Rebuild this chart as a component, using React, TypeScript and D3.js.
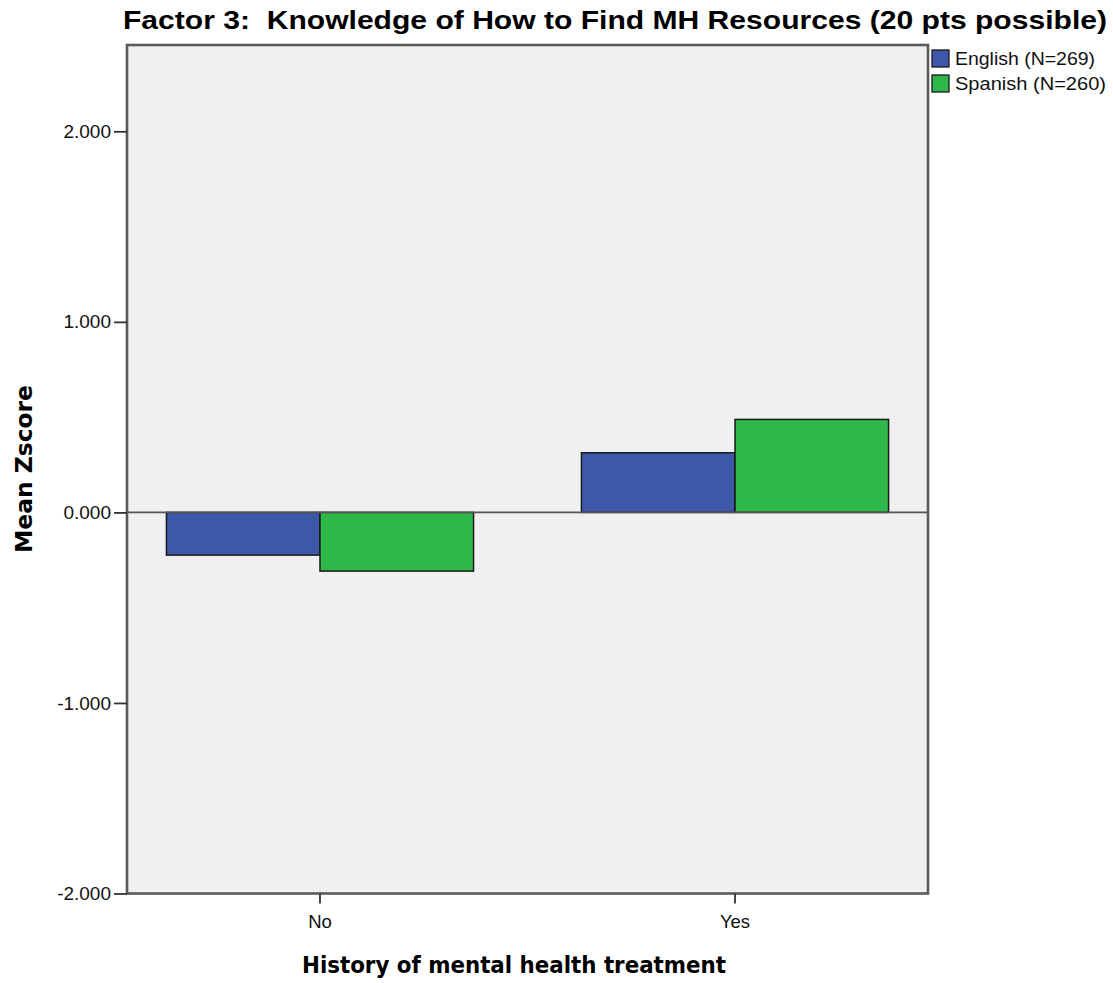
import { useEffect, useRef } from "react";
import * as d3 from "d3";

const categories = ["No", "Yes"];
const seriesNames = ["English (N=269)", "Spanish (N=260)"];
const englishValues = [-0.224, 0.313];
const spanishValues = [-0.308, 0.488];
const yTicks = [-2, -1, 0, 1, 2];
const colors = ["#3d58a9", "#2fb84a"];

const W = 1113;
const H = 983;

export default function App() {
  const svgRef = useRef<SVGSVGElement>(null);

  useEffect(() => {
    if (!svgRef.current) return;
    const svg = d3.select(svgRef.current);
    svg.selectAll("*").remove();

    const left = 127;
    const right = 928;
    const top = 45;
    const bottom = 893.5;

    const y = d3.scaleLinear().domain([-2, 2.453]).range([bottom, top]);
    const x0 = d3
      .scaleBand()
      .domain(categories)
      .range([left, right])
      .paddingInner(0.26)
      .paddingOuter(0.095);
    const x1 = d3
      .scaleBand()
      .domain(seriesNames)
      .range([0, x0.bandwidth()]);

    // plot background
    svg
      .append("rect")
      .attr("x", left)
      .attr("y", top)
      .attr("width", right - left)
      .attr("height", bottom - top)
      .attr("fill", "#f0f0f0");

    const series = [englishValues, spanishValues];
    const data = categories.flatMap((c, i) =>
      seriesNames.map((s, j) => ({ c, s, v: series[j][i], j }))
    );

    svg
      .append("g")
      .selectAll("rect")
      .data(data)
      .enter()
      .append("rect")
      .attr("x", (d) => (x0(d.c) ?? 0) + (x1(d.s) ?? 0))
      .attr("width", x1.bandwidth())
      .attr("y", (d) => y(Math.max(0, d.v)))
      .attr("height", (d) => Math.abs(y(d.v) - y(0)))
      .attr("fill", (d) => colors[d.j])
      .attr("stroke", "#1a1a1a")
      .attr("stroke-width", 1.5);

    // zero reference line
    svg
      .append("line")
      .attr("x1", left)
      .attr("x2", right)
      .attr("y1", y(0))
      .attr("y2", y(0))
      .attr("stroke", "#555")
      .attr("stroke-width", 1.8);

    // frame
    svg
      .append("rect")
      .attr("x", left)
      .attr("y", top)
      .attr("width", right - left)
      .attr("height", bottom - top)
      .attr("fill", "none")
      .attr("stroke", "#5a5a5a")
      .attr("stroke-width", 2.6);

    // y axis (SPSS style: plain hyphen for negatives)
    const fmt = d3.format(".3f");
    const yAxis = svg
      .append("g")
      .attr("transform", `translate(${left},0)`)
      .call(
        d3
          .axisLeft(y)
          .tickValues(yTicks)
          .tickSize(13)
          .tickPadding(3)
          .tickFormat((d) => fmt(d as number).replace("\u2212", "-"))
      );
    yAxis.select(".domain").remove();
    yAxis.selectAll(".tick line").attr("stroke", "#333").attr("stroke-width", 1.8);
    yAxis
      .selectAll(".tick text")
      .attr("fill", "#111")
      .attr("font-family", "'Liberation Sans', Arial, sans-serif")
      .attr("font-size", 19);

    // x axis
    const xAxis = svg
      .append("g")
      .attr("transform", `translate(0,${bottom})`)
      .call(d3.axisBottom(x0).tickSize(10).tickPadding(11));
    xAxis.select(".domain").remove();
    xAxis.selectAll(".tick line").attr("stroke", "#333").attr("stroke-width", 1.8);
    xAxis
      .selectAll(".tick text")
      .attr("fill", "#111")
      .attr("font-family", "'Liberation Sans', Arial, sans-serif")
      .attr("font-size", 18.5);

    // title
    svg
      .append("text")
      .attr("x", 615)
      .attr("y", 29)
      .attr("text-anchor", "middle")
      .attr("font-family", "'Liberation Sans', Arial, sans-serif")
      .attr("font-weight", "bold")
      .attr("font-size", 26.5)
      .attr("textLength", 984)
      .attr("lengthAdjust", "spacingAndGlyphs")
      .attr("fill", "#000")
      .style("white-space", "pre")
      .text("Factor 3:  Knowledge of How to Find MH Resources (20 pts possible)");

    // axis titles
    svg
      .append("text")
      .attr("x", 514)
      .attr("y", 973)
      .attr("text-anchor", "middle")
      .attr("font-family", "'DejaVu Sans', Verdana, sans-serif")
      .attr("font-weight", "bold")
      .attr("font-size", 23)
      .attr("textLength", 424)
      .attr("lengthAdjust", "spacingAndGlyphs")
      .attr("fill", "#000")
      .text("History of mental health treatment");

    svg
      .append("text")
      .attr("transform", `translate(32,469) rotate(-90)`)
      .attr("text-anchor", "middle")
      .attr("font-family", "'DejaVu Sans', Verdana, sans-serif")
      .attr("font-weight", "bold")
      .attr("font-size", 23)
      .attr("textLength", 168)
      .attr("lengthAdjust", "spacingAndGlyphs")
      .attr("fill", "#000")
      .text("Mean Zscore");

    // legend
    const legend = svg
      .append("g")
      .selectAll("g")
      .data(seriesNames)
      .enter()
      .append("g")
      .attr("transform", (_d, i) => `translate(932,${50 + i * 25})`);
    legend
      .append("rect")
      .attr("width", 17)
      .attr("height", 17)
      .attr("fill", (_d, i) => colors[i])
      .attr("stroke", "#1a1a1a")
      .attr("stroke-width", 1.3);
    legend
      .append("text")
      .attr("x", 23)
      .attr("y", 15)
      .attr("font-family", "'Liberation Sans', Arial, sans-serif")
      .attr("font-size", 17.5)
      .attr("textLength", (_d, i) => (i === 0 ? 140 : 151))
      .attr("lengthAdjust", "spacingAndGlyphs")
      .attr("fill", "#111")
      .text((d) => d);
  }, []);

  return (
    <svg
      ref={svgRef}
      width={W}
      height={H}
      style={{ position: "absolute", left: 0, top: 0, background: "#fff" }}
    />
  );
}
